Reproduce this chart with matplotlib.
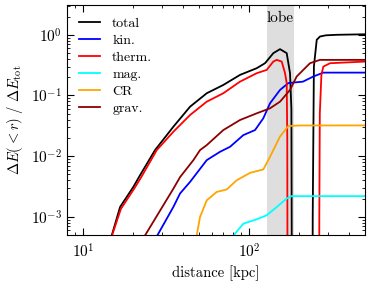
import matplotlib
matplotlib.use("Agg")
import matplotlib.pyplot as plt
import numpy as np

plt.rcParams["font.family"] = "serif"
plt.rcParams["font.serif"] = ["cmr10", "DejaVu Serif"]
plt.rcParams["mathtext.fontset"] = "cm"
plt.rcParams["axes.formatter.use_mathtext"] = True
plt.rcParams["axes.unicode_minus"] = False

# cumulative energy change profiles (kpc, fraction)
total_r = [14.5, 14.89, 16.71, 20.09, 22.05, 27.14, 34.99, 44.12, 55.62, 70.02, 88.27, 111.3, 124.9, 140.1,
           153.7, 168.7, 176.6, 180.0, 181.5, 241.0, 242.0, 246.0, 255.9, 267.7, 290.0, 337.0, 500.0]
total_v = [3e-4, 4.94e-4, 1.45e-3, 3.11e-3, 4.85e-3, 1.257e-2, 3.05e-2, 0.0653, 0.1088, 0.1491, 0.2183, 0.2816,
           0.3405, 0.498, 0.58, 0.498, 0.233, 0.06, 1e-5, 1e-5, 1e-3, 0.3, 0.827, 0.937, 0.98, 1.0, 1.02]

therm_r = [14.6, 14.95, 16.9, 20.3, 22.3, 27.8, 34.99, 44.12, 55.62, 70.02, 88.27, 111.3, 127.8, 140.1, 146.9,
           157.4, 164.8, 168.7, 170.0, 170.8, 264.5, 265.2, 267.0, 273.0, 280.4, 307.6, 500.0]
therm_v = [3e-4, 4.94e-4, 1.35e-3, 2.9e-3, 4.4e-3, 1.257e-2, 0.0252, 0.0476, 0.079, 0.1088, 0.1691, 0.2328,
           0.2638, 0.362, 0.386, 0.362, 0.2328, 0.159, 0.02, 1e-5, 1e-5, 1e-3, 0.05, 0.22, 0.299, 0.34, 0.362]

kin_r = [27.6, 28.03, 34.99, 38.39, 44.12, 55.62, 66.89, 76.83, 92.41, 108.7, 121.9, 133.8, 153.7, 172.5,
         211.3, 243.8, 280.4, 500.0]
kin_v = [4e-4, 4.94e-4, 1.45e-3, 2.42e-3, 3.76e-3, 8.59e-3, 0.0118, 0.01425, 0.0222, 0.0269, 0.042, 0.0743,
         0.1233, 0.16, 0.169, 0.205, 0.238, 0.238]

mag_r = [79.0, 82.37, 92.41, 111.3, 127.8, 146.9, 168.7, 180.7, 500.0]
mag_v = [4e-4, 5.28e-4, 7.7e-4, 9.1e-4, 1.06e-3, 1.45e-3, 2.0e-3, 2.19e-3, 2.19e-3]

cr_r = [47.8, 48.41, 50.68, 55.62, 63.89, 73.4, 84.33, 101.4, 121.9, 133.8, 153.7, 172.5, 200.0, 500.0]
cr_v = [4e-4, 4.94e-4, 9.93e-4, 1.87e-3, 2.57e-3, 2.82e-3, 4.01e-3, 5.3e-3, 6.03e-3, 9.74e-3, 0.021, 0.0313,
        0.032, 0.0321]

grav_r = [23.2, 23.63, 34.99, 38.39, 46.2, 50.68, 55.62, 70.02, 88.27, 111.3, 133.8, 153.7, 176.6, 193.6,
          233.1, 267.7, 500.0]
grav_v = [3e-4, 4.94e-4, 2.9e-3, 4.5e-3, 8.59e-3, 1.257e-2, 0.0152, 0.0269, 0.0394, 0.0508, 0.0614, 0.079,
          0.1233, 0.205, 0.3405, 0.386, 0.386]

lobe_range = (128, 187)

fig = plt.figure(figsize=(3.73, 2.87), dpi=100)
ax = fig.add_axes([0.1796, 0.181, 0.799, 0.8016])

ax.axvspan(*lobe_range, color="0.87", lw=0, zorder=0)
ax.text(np.sqrt(lobe_range[0] * lobe_range[1]), 0.943, "lobe", transform=ax.get_xaxis_transform(),
        ha="center", va="center", fontsize=11)

lw = 1.3
ax.plot(total_r, total_v, color="black", lw=lw, label="total")
ax.plot(kin_r, kin_v, color="blue", lw=lw, label="kin.")
ax.plot(therm_r, therm_v, color="red", lw=lw, label="therm.")
ax.plot(mag_r, mag_v, color="cyan", lw=lw, label="mag.")
ax.plot(cr_r, cr_v, color="orange", lw=lw, label="CR")
ax.plot(grav_r, grav_v, color="darkred", lw=lw, label="grav.")

ax.set_xscale("log")
ax.set_yscale("log")
ax.set_xlim(8, 500)
ax.set_ylim(5e-4, 3.1)

ax.tick_params(which="both", direction="in", top=True, right=True, labelsize=11)
ax.tick_params(which="major", length=5)
ax.tick_params(which="minor", length=2.5)
ax.tick_params(axis="x", which="both", pad=5)

ax.set_xlabel("distance [kpc]", fontsize=10.5)
ax.set_ylabel(r"$\Delta E(<r)\ /\ \Delta E_{\rm tot}$", fontsize=10.5)

ax.legend(loc="upper left", frameon=False, fontsize=10, handlelength=1.45, handletextpad=0.9,
          labelspacing=0.3, borderaxespad=0.5)

fig.savefig("out.png", dpi=100)
